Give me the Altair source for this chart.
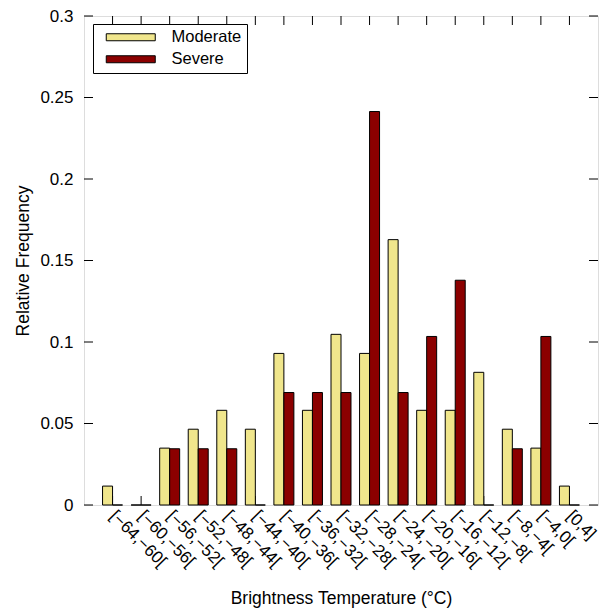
import altair as alt
import pandas as pd

categories = ["[−64,−60[", "[−60,−56[", "[−56,−52[", "[−52,−48[", "[−48,−44[",
              "[−44,−40[", "[−40,−36[", "[−36,−32[", "[−32,−28[", "[−28,−24[",
              "[−24,−20[", "[−20,−16[", "[−16,−12[", "[−12,−8[", "[−8,−4[",
              "[−4,0[", "[0,4]"]
moderate = [0.0116, 0.0, 0.0349, 0.0465, 0.0581, 0.0465, 0.0930, 0.0581, 0.1047,
            0.0930, 0.1628, 0.0581, 0.0581, 0.0814, 0.0465, 0.0349, 0.0116]
severe = [0.0, 0.0, 0.0345, 0.0345, 0.0345, 0.0, 0.0690, 0.0690, 0.0690,
          0.2414, 0.0690, 0.1034, 0.1379, 0.0, 0.0345, 0.1034, 0.0]
series = ["Moderate", "Severe"]
yticks = [0, 0.05, 0.1, 0.15, 0.2, 0.25, 0.3]

rows = []
for c, m, s in zip(categories, moderate, severe):
    rows.append({"cat": c, "series": "Moderate", "value": m})
    rows.append({"cat": c, "series": "Severe", "value": s})
df = pd.DataFrame(rows)
cat_df = pd.DataFrame({"cat": categories})
ytick_df = pd.DataFrame({"v": yticks})

W, H = 514, 489
TK = 9
FONT = "Liberation Sans"

xscale = alt.Scale(paddingInner=0.3, paddingOuter=0.65)
yscale = alt.Scale(domain=[0, 0.3], nice=False)

xenc = alt.X("cat:N", sort=categories, scale=xscale,
             axis=alt.Axis(title="Brightness Temperature (°C)", labelAngle=45,
                           labelAlign="left", labelBaseline="middle",
                           tickSize=0, domain=False, labelPadding=8,
                           labelFontSize=17, titleFontSize=17.5,
                           titleFontWeight="normal", titlePadding=20,
                           labelColor="black", titleColor="black"))
yenc = alt.Y("value:Q", scale=yscale,
             axis=alt.Axis(title="Relative Frequency", values=yticks, format="~g",
                           tickSize=0, domain=False, grid=False, labelPadding=11,
                           labelFontSize=17, titleFontSize=17.5,
                           titleFontWeight="normal", titlePadding=7,
                           labelColor="black", titleColor="black"))

# wide flat legend swatch: r = 5 px, swatch from 0 to 49 px, height 7 px
swatch = "M0,-0.7L9.8,-0.7L9.8,0.7L0,0.7Z"

bars = alt.Chart(df).mark_bar(stroke="black", strokeWidth=1).encode(
    x=xenc,
    xOffset=alt.XOffset("series:N", sort=series),
    y=yenc,
    color=alt.Color("series:N", sort=series,
                    scale=alt.Scale(domain=series, range=["#f0e68c", "#8b0000"]),
                    legend=alt.Legend(title=None, orient="none", legendX=9, legendY=8,
                                      padding=5, strokeColor="black", fillColor="white",
                                      symbolType=swatch,
                                      symbolSize=100, symbolStrokeColor="black",
                                      symbolStrokeWidth=1, symbolOpacity=1,
                                      labelFontSize=16.5, labelOffset=57, rowPadding=5,
                                      labelColor="black")),
)

xt_top = alt.Chart(cat_df).mark_rule(color="black").encode(
    x=alt.X("cat:N", sort=categories, scale=xscale), y=alt.value(0), y2=alt.value(TK))
xt_bot = alt.Chart(cat_df).mark_rule(color="black").encode(
    x=alt.X("cat:N", sort=categories, scale=xscale), y=alt.value(H), y2=alt.value(H - TK))
yt_left = alt.Chart(ytick_df).mark_rule(color="black").encode(
    y=alt.Y("v:Q", scale=yscale), x=alt.value(0), x2=alt.value(TK))
yt_right = alt.Chart(ytick_df).mark_rule(color="black").encode(
    y=alt.Y("v:Q", scale=yscale), x=alt.value(W), x2=alt.value(W - TK))

chart = alt.layer(xt_bot, bars, xt_top, yt_left, yt_right).properties(
    width=W, height=H,
    autosize=alt.AutoSizeParams(type="none"),
    padding={"left": 76, "top": 8, "right": 6, "bottom": 104},
).configure_view(stroke="black", strokeWidth=2).configure(font=FONT)

chart.save("out.html", embed_options={"renderer": "svg", "actions": False})
